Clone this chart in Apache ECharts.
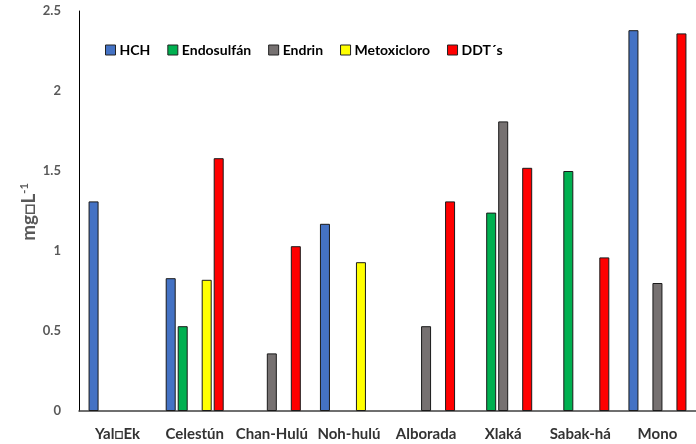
<!DOCTYPE html>
<html>
<head>
<meta charset="utf-8">
<script src="https://cdn.jsdelivr.net/npm/echarts@6/dist/echarts.min.js"></script>
<style>
  html, body { margin: 0; padding: 0; background: #fff; }
  #chart { width: 696px; height: 444px; }
</style>
</head>
<body>
<div id="chart"></div>
<script>
// sitios de muestreo
const sitios = ["Yal\u25A1Ek", "Celestún", "Chan-Hulú", "Noh-hulú", "Alborada", "Xlaká", "Sabak-há", "Mono"];
// concentraciones (mg/L), null = no detectado
const hch = [1.31, 0.83, null, 1.17, null, null, null, 2.38];
const endosulfan = [null, 0.53, null, null, null, 1.24, 1.50, null];
const endrin = [null, null, 0.36, null, 0.53, 1.81, null, 0.80];
const metoxicloro = [null, 0.82, null, 0.93, null, null, null, null];
const ddts = [null, 1.58, 1.03, null, 1.31, 1.52, 0.96, 2.36];
const yTicks = [0, 0.5, 1, 1.5, 2, 2.5];

const colores = ["#4472C4", "#00B050", "#767171", "#FFFF00", "#FF0000"];
const nombres = ["HCH", "Endosulfán", "Endrin", "Metoxicloro", "DDT´s"];
const datos = [hch, endosulfan, endrin, metoxicloro, ddts];

const chart = echarts.init(document.getElementById("chart"));

const option = {
  animation: false,
  textStyle: { fontFamily: "Lato" },
  color: colores,
  legend: {
    data: nombres,
    left: 100,
    top: 38,
    itemWidth: 10,
    itemHeight: 10,
    itemGap: 17,
    icon: "rect",
    itemStyle: { borderColor: "#222", borderWidth: 1 },
    textStyle: { fontSize: 14, fontWeight: "bold", color: "#000", fontFamily: "Lato", padding: [0, 0, 0, -1] }
  },
  // titulo del eje y (mg L-1)
  graphic: [{
    type: "text",
    x: 29,
    y: 212,
    rotation: Math.PI / 2,
    style: {
      text: "{a|mg\u25A1L}{b|-1}",
      align: "center",
      verticalAlign: "middle",
      rich: {
        a: { fontSize: 19, fontWeight: "bold", fill: "#595959", fontFamily: "Lato" },
        b: { fontSize: 11, fontWeight: "bold", fill: "#595959", fontFamily: "Lato", verticalAlign: "top", padding: [0, 0, 10, 0] }
      }
    }
  }],
  grid: {
    left: 79,
    top: 11,
    width: 626,
    height: 400
  },
  xAxis: {
    type: "category",
    data: sitios,
    axisLine: { lineStyle: { color: "#404040", width: 1.5 } },
    axisTick: { show: false },
    axisLabel: {
      margin: 16,
      fontSize: 15,
      fontWeight: "bold",
      color: "#333",
      fontFamily: "Lato",
      interval: 0
    }
  },
  yAxis: {
    type: "value",
    min: 0,
    max: 2.5,
    interval: 0.5,
    splitLine: { show: false },
    axisLine: { show: true, lineStyle: { color: "#000", width: 1 } },
    axisTick: { show: false },
    axisLabel: {
      margin: 18,
      fontSize: 13,
      fontWeight: "bold",
      color: "#595959",
      fontFamily: "Lato",
      formatter: v => yTicks.includes(v) ? String(v) : ""
    }
  },
  series: nombres.map((n, i) => ({
    name: n,
    type: "bar",
    data: datos[i],
    barWidth: 10,
    barGap: "20%",
    itemStyle: { color: colores[i], borderColor: "#1a1a1a", borderWidth: 1 }
  }))
};

chart.setOption(option);
</script>
</body>
</html>
